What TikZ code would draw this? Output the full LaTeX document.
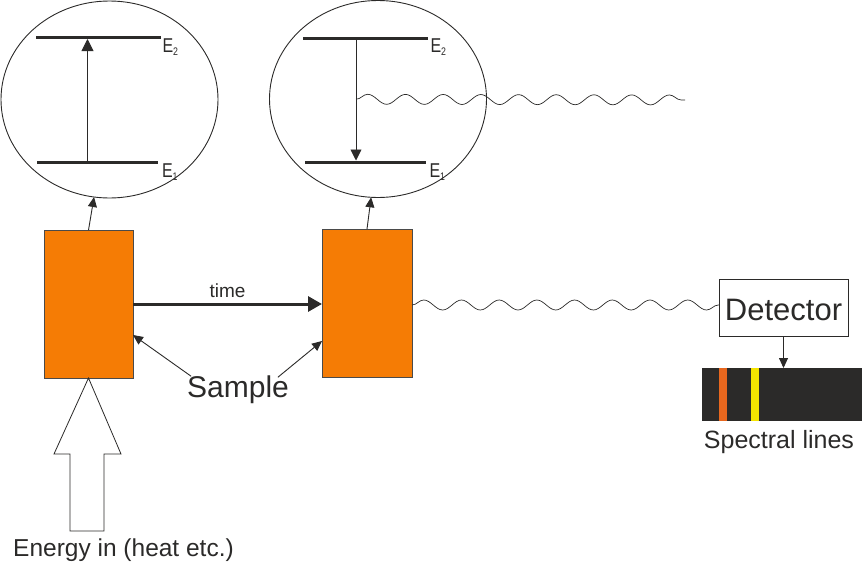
\documentclass[tikz,border=0pt]{standalone}
\usepackage{fontspec}
\setmainfont{Liberation Sans}
\usetikzlibrary{arrows.meta,decorations.pathmorphing,shapes.geometric,calc}
\definecolor{ink}{HTML}{2B2A29}
\definecolor{boxedge}{HTML}{4A4A4A}
\definecolor{sampleorange}{HTML}{F57C05}
\definecolor{lineorange}{HTML}{E8671E}
\definecolor{lineyellow}{HTML}{F5E400}
\newcommand{\fsz}[1]{\fontsize{#1}{#1}\selectfont}
\newcommand{\lvl}[1]{\scalebox{0.8}[1]{E\raisebox{-2.5pt}{\fsz{11}#1}}}
\begin{document}
\begin{tikzpicture}[x=1pt,y=-1pt,
  every node/.style={inner sep=0pt, outer sep=0pt},
  bubble/.style={draw=ink, line width=0.9pt, ellipse, minimum width=217pt, minimum height=197pt},
  samplebox/.style={draw=boxedge, fill=sampleorange, line width=0.8pt, minimum width=89pt, minimum height=148pt},
  level/.style={draw=ink, line width=3pt},
  thinarrow/.style={draw=ink, line width=0.9pt, -{Triangle[length=10pt,width=9pt]}},
  timearrow/.style={draw=ink, line width=3pt, -{Triangle[length=14pt,width=15pt]}},
  wave/.style={draw=ink, line width=0.7pt, decorate, decoration={snake, amplitude=5pt, segment length=37.7pt}},
  lbl/.style={text=ink},
  elbl/.style={text=ink, font=\fsz{20}, anchor=base west}
]
\useasboundingbox (0,0) rectangle (862,562);

% bubbles
\node[bubble] (c1) at (109.5,99.5) {};
\node[bubble] (c2) at (378,99) {};

% energy levels, bubble 1
\draw[level] (36,37.5) coordinate (c1e2a) -- (161,37.5) coordinate (c1e2b);
\draw[level] (37,162) coordinate (c1e1a) -- (158,162) coordinate (c1e1b);
\node[elbl] (c1E2) at (162.5,52.5) {\lvl{2}};
\node[elbl] (c1E1) at (162,177.5) {\lvl{1}};
\coordinate (c1lo) at (87.5,162);
\coordinate (c1hi) at (87.5,39);
\draw[thinarrow, -{Triangle[length=12pt,width=12pt]}] (c1lo) -- (c1hi);

% energy levels, bubble 2
\draw[level] (303,38) coordinate (c2e2a) -- (428,38) coordinate (c2e2b);
\draw[level] (305,162) coordinate (c2e1a) -- (426,162) coordinate (c2e1b);
\node[elbl] (c2E2) at (430.5,52.5) {\lvl{2}};
\node[elbl] (c2E1) at (429.5,177.5) {\lvl{1}};
\coordinate (c2hi) at (356,38);
\coordinate (c2lo) at (356,160.5);
\draw[thinarrow, -{Triangle[length=11pt,width=11pt]}] (c2hi) -- (c2lo);
\coordinate (w1s) at ($(c2hi)!0.5!(c2lo)$);
\coordinate (w1e) at (685,100);
\draw[wave] (w1s) -- (w1e);

% samples
\node[samplebox] (s1) at (88.5,304) {};
\node[samplebox, minimum width=90pt] (s2) at (367,303) {};

\draw[thinarrow] (s1.north) -- (c1.-99.5);
\draw[thinarrow] (s2.north) -- (c2.-94.6);

\draw[timearrow] (s1.east) -- (s1.east -| s2.west) node[midway, lbl, font=\fsz{19}, anchor=base, yshift=7pt] (time) {time};

\node[lbl, font=\fsz{30}, anchor=base] (sample) at (238,397) {Sample};
\draw[thinarrow] ([xshift=4pt, yshift=-1pt]sample.north west) -- ([yshift=-31pt]s1.east);
\draw[thinarrow] ([xshift=-11pt, yshift=-2pt]sample.north east) -- ([yshift=-38pt]s2.west);

% energy input
\draw[draw=ink, line width=0.8pt, fill=white] (70,531) -- (70,454) -- (54,454) -- (s1.south) -- (121,454) -- (104,454) -- (104,531) -- cycle;
\node[lbl, font=\fsz{24.5}, anchor=base] (energy) at (123.5,556) {Energy in (heat etc.)};

% detector
\node[draw=ink, line width=0.8pt, fill=white, minimum width=129pt, minimum height=57pt] (det) at (783.5,307.5) {};
\node[lbl, font=\fsz{31}, anchor=base] (dettext) at (783.5,320) {Detector};
\coordinate (w2s) at ($(s2.east)+(0,2)$);
\draw[wave] (w2s) -- (w2s -| det.west);

% spectrum
\node[fill=ink, minimum width=160pt, minimum height=53pt] (spec) at (782,394.5) {};
\fill[lineorange] ([xshift=17pt]spec.north west) rectangle ([xshift=25pt]spec.south west);
\fill[lineyellow] ([xshift=49pt]spec.north west) rectangle ([xshift=57pt]spec.south west);
\draw[thinarrow] (det.south) -- (det.south |- spec.north);
\node[lbl, font=\fsz{25}, anchor=base] (speclbl) at (779,448) {Spectral lines};
\end{tikzpicture}
\end{document}
